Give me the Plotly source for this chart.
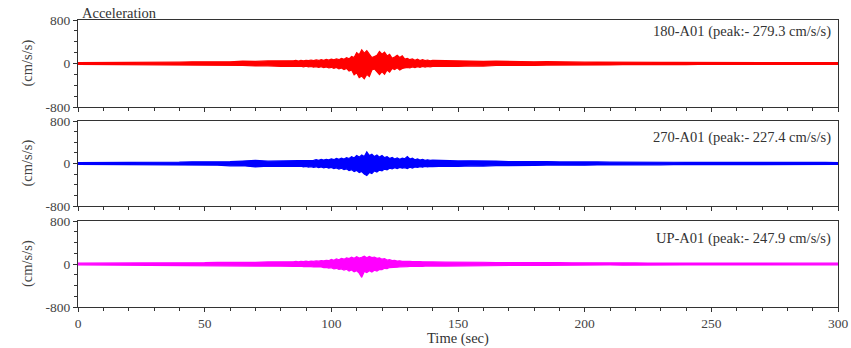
import plotly.graph_objects as go

# Time samples (sec): every 5 s in the quiet parts, every 1 s through the strong-motion part
time_sec = list(range(0, 85, 5)) + list(range(85, 141)) + list(range(145, 301, 5))

# Upper / lower envelope of each acceleration record (cm/s/s)
upper_180 = [16, 16, 18, 17, 19, 18, 22, 26, 24, 30, 27, 35, 32, 42, 38, 48, 44,
             50, 58, 46, 57, 50, 60, 52, 64, 54, 66, 56, 70, 58, 74, 62, 80, 66, 84, 70, 95,
             78, 105, 85, 130, 110, 200, 160, 250, 190, 235, 180, 110, 130, 150, 220,
             170, 210, 140, 170, 95, 120, 150, 110, 140, 80, 95, 70, 85, 60, 78, 55, 70, 52, 64, 50, 58,
             52, 46, 50, 40, 44, 35, 38, 30, 33, 27, 29, 25, 27, 23, 25, 21, 23, 20, 21, 19,
             20, 18, 19, 17, 18, 16, 17, 16, 17, 16, 16, 16]
lower_180 = [-16, -17, -17, -18, -18, -19, -22, -25, -28, -26, -33, -30, -39, -35, -46, -42, -52,
             -52, -45, -58, -48, -60, -50, -63, -55, -68, -57, -72, -60, -76, -64, -82, -70, -88, -74, -100, -82,
             -110, -90, -140, -120, -210, -170, -260, -230, -279.3, -200, -240, -120, -100, -160, -205,
             -150, -200, -120, -160, -90, -110, -80, -120, -90, -85, -70, -82, -62, -75, -58, -70, -55, -65, -52, -62, -54,
             -48, -54, -42, -47, -37, -41, -32, -36, -29, -31, -26, -28, -24, -26, -22, -24, -21, -22, -19, -21,
             -18, -19, -17, -18, -17, -17, -16, -17, -16, -16, -16, -16]

upper_270 = [15, 15, 16, 18, 20, 24, 21, 28, 25, 32, 29, 38, 34, 46, 60, 44, 50,
             52, 60, 48, 62, 52, 64, 54, 68, 58, 72, 60, 76, 64, 80, 68, 88, 72, 95, 80, 100,
             85, 110, 95, 130, 105, 150, 120, 160, 130, 220, 150, 175, 130, 160, 120,
             150, 110, 130, 95, 115, 85, 105, 80, 100, 90, 130, 85, 100, 70, 85, 65, 78, 60, 70, 58, 64,
             55, 48, 52, 42, 46, 37, 41, 33, 36, 29, 32, 27, 29, 25, 27, 24, 26, 23, 24, 22,
             23, 21, 22, 20, 22, 20, 21, 19, 21, 19, 20, 19]
lower_270 = [-15, -16, -16, -19, -22, -20, -26, -23, -31, -28, -36, -32, -44, -40, -65, -48, -54,
             -55, -48, -60, -50, -64, -55, -68, -58, -72, -62, -78, -65, -82, -70, -88, -75, -95, -82, -105, -90,
             -115, -100, -135, -115, -150, -130, -170, -150, -200, -227.4, -170, -190, -140, -160, -125,
             -140, -105, -120, -90, -100, -80, -95, -75, -88, -80, -95, -70, -85, -65, -75, -60, -70, -56, -64, -55, -60,
             -50, -56, -44, -49, -39, -43, -34, -38, -30, -34, -28, -31, -26, -28, -24, -27, -23, -25, -22, -24,
             -21, -23, -20, -22, -20, -21, -19, -21, -19, -20, -19, -19]

upper_up = [16, 16, 17, 17, 18, 19, 20, 23, 21, 27, 25, 31, 28, 35, 32, 39, 36,
            42, 48, 40, 50, 44, 52, 46, 55, 48, 58, 52, 62, 58, 70, 62, 85, 70, 95, 80, 105,
            90, 115, 100, 125, 105, 135, 110, 125, 145, 115, 140, 120, 130, 105, 115,
            90, 100, 72, 80, 62, 66, 55, 60, 50, 54, 47, 50, 44, 47, 42, 45, 40, 43, 39, 41, 38,
            34, 37, 30, 33, 27, 29, 25, 27, 23, 25, 21, 23, 20, 21, 19, 20, 18, 19, 18, 19,
            17, 18, 17, 18, 16, 17, 16, 17, 16, 16, 16, 16]
lower_up = [-16, -17, -17, -18, -18, -20, -22, -20, -26, -24, -30, -27, -34, -31, -38, -36, -42,
            -44, -40, -47, -42, -50, -46, -53, -48, -56, -52, -60, -55, -66, -62, -75, -70, -92, -80, -102, -90,
            -112, -98, -130, -110, -145, -125, -170, -247.9, -140, -160, -125, -150, -115, -130, -100,
            -105, -80, -85, -66, -68, -58, -60, -52, -54, -48, -50, -45, -47, -43, -45, -41, -43, -39, -41, -38, -39,
            -38, -34, -35, -29, -31, -26, -28, -24, -25, -22, -24, -20, -22, -19, -21, -18, -20, -18, -19, -17,
            -18, -17, -18, -16, -17, -16, -17, -16, -16, -16, -16, -16]

series_names = ["180-A01 (peak:- 279.3 cm/s/s)", "270-A01 (peak:- 227.4 cm/s/s)", "UP-A01 (peak:- 247.9 cm/s/s)"]
series_upper = [upper_180, upper_270, upper_up]
series_lower = [lower_180, lower_270, lower_up]
series_colors = ["#ff0000", "#0000ff", "#ff00ff"]

y_ticks = [-800, 0, 800]
x_ticks = [0, 50, 100, 150, 200, 250, 300]

FONT = "Liberation Serif"
AX = "#333333"

# Plot area: x 78..838, y 20..307 px (760 x 287)
H = 287.0
domains = [
    [(307 - 107) / H, 1.0],
    [(307 - 206) / H, (307 - 121) / H],
    [0.0, (307 - 221) / H],
]
label_y = [(307 - 31) / H, (307 - 137) / H, (307 - 238) / H]

fig = go.Figure()
layout = dict(
    width=851, height=348,
    margin=dict(l=78, r=13, t=20, b=41, autoexpand=False),
    paper_bgcolor="white", plot_bgcolor="white",
    showlegend=False,
    font=dict(family=FONT, size=13, color="#333"),
    annotations=[],
)

for i in range(3):
    xa = "x" if i == 0 else f"x{i+1}"
    ya = "y" if i == 0 else f"y{i+1}"
    c = series_colors[i]
    fig.add_trace(go.Scatter(
        x=time_sec, y=series_upper[i], mode="lines",
        line=dict(color=c, width=1.2), xaxis=xa, yaxis=ya, hoverinfo="skip",
    ))
    fig.add_trace(go.Scatter(
        x=time_sec, y=series_lower[i], mode="lines",
        line=dict(color=c, width=1.2), fill="tonexty", fillcolor=c,
        xaxis=xa, yaxis=ya, hoverinfo="skip",
    ))
    xkey = "xaxis" if i == 0 else f"xaxis{i+1}"
    ykey = "yaxis" if i == 0 else f"yaxis{i+1}"
    layout[xkey] = dict(
        domain=[0, 1], anchor=ya, range=[0, 300],
        tickvals=x_ticks, showticklabels=(i == 2), ticklabeloverflow="allow",
        ticks="outside", ticklen=4, tickwidth=1, tickcolor=AX,
        minor=dict(dtick=10, ticks="outside", ticklen=3, tickcolor=AX, showgrid=False),
        showline=True, mirror=True, linecolor=AX, linewidth=1.2,
        showgrid=False, zeroline=False,
        tickfont=dict(family=FONT, size=13.5, color="#444"),
    )
    layout[ykey] = dict(
        domain=domains[i], anchor=xa, range=[-800, 800],
        tickvals=y_ticks, ticktext=["-800", "0", "800"],
        ticks="outside", ticklen=4, tickwidth=1, tickcolor=AX,
        minor=dict(dtick=200, ticks="outside", ticklen=3, tickcolor=AX, showgrid=False),
        showline=True, mirror=True, linecolor=AX, linewidth=1.2,
        showgrid=False, zeroline=False,
        tickfont=dict(family=FONT, size=13.5, color="#444"),
    )
    layout["annotations"].append(dict(
        text=series_names[i], xref="paper", yref="paper",
        x=(833 - 78) / 760.0, y=label_y[i], xanchor="right", yanchor="middle",
        showarrow=False, font=dict(family=FONT, size=14.5, color="#333"),
    ))
    layout["annotations"].append(dict(
        text="(cm/s/s)", xref="paper", yref="paper", textangle=-90,
        x=(27 - 78) / 760.0, y=(domains[i][0] + domains[i][1]) / 2,
        xanchor="center", yanchor="middle",
        showarrow=False, font=dict(family=FONT, size=14.5, color="#444"),
    ))

layout["annotations"].append(dict(
    text="Acceleration", xref="paper", yref="paper",
    x=(80 - 78) / 760.0, y=(307 - 13) / H, xanchor="left", yanchor="middle",
    showarrow=False, font=dict(family=FONT, size=14.5, color="#333"),
))
layout["annotations"].append(dict(
    text="Time (sec)", xref="paper", yref="paper",
    x=0.5, y=(307 - 338) / H, xanchor="center", yanchor="middle",
    showarrow=False, font=dict(family=FONT, size=14.5, color="#333"),
))

fig.update_layout(**layout)
fig.write_html(
    "out.html",
    config={"displayModeBar": False},
    post_script="document.body.style.margin='0';document.body.style.overflow='hidden';",
)
